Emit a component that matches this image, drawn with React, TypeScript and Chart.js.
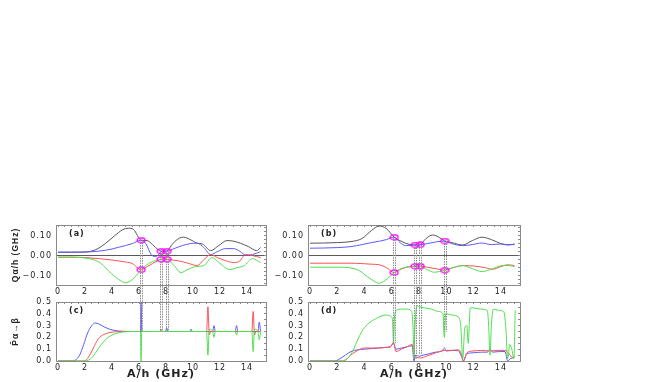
import React, { useEffect, useRef } from 'react';
import { Chart, registerables } from 'chart.js';

Chart.register(...registerables);
Chart.defaults.font.family = 'DejaVu Sans';

// ---------- axes ----------
const X_MIN = -0.15;
const X_MAX = 15.4;
const X_TICKS = [0, 2, 4, 6, 8, 10, 12, 14];
const Q_MIN = -0.147;
const Q_MAX = 0.153;
const Q_TICKS = [-0.1, 0, 0.1];
const P_MIN = 0;
const P_MAX = 0.5;
const P_TICKS = [0, 0.1, 0.2, 0.3, 0.4, 0.5];

// ---------- panel (a) ----------
const A_BLACK_X = [0, 1, 2, 2.8, 3.5, 4.2, 4.8, 5.2, 5.6, 6.15, 6.6, 7.0, 7.4, 7.63, 7.85, 8.05, 8.5, 9.0, 9.3, 9.8, 10.3, 10.7, 11.3, 11.9, 12.5, 13.0, 13.5, 14.1, 14.7, 15.0];
const A_BLACK_Y = [0.017, 0.017, 0.018, 0.03, 0.06, 0.1, 0.13, 0.137, 0.13, 0.077, 0.075, 0.055, 0.03, 0.022, 0.02, 0.022, 0.06, 0.088, 0.092, 0.08, 0.062, 0.058, 0.025, 0.05, 0.075, 0.072, 0.062, 0.045, 0.025, 0.04];
const A_BLUE_X = [0, 1, 2, 3, 4, 4.5, 5, 5.5, 6.15, 6.5, 6.9, 7.2, 7.45, 7.63, 7.85, 8.05, 8.6, 9.2, 9.8, 10.3, 10.8, 11.3, 11.8, 12.4, 13.0, 13.5, 13.9, 14.4, 15.0];
const A_BLUE_Y = [0.017, 0.017, 0.018, 0.022, 0.033, 0.042, 0.05, 0.06, 0.077, 0.06, 0.005, -0.005, 0.005, 0.022, 0.024, 0.022, 0.035, 0.05, 0.06, 0.062, 0.04, 0.005, 0.02, 0.035, 0.035, 0.02, 0.002, 0.005, 0.02];
const A_RED_X = [0, 1, 2, 3, 4, 4.8, 5.5, 6.15, 6.6, 7.0, 7.4, 7.63, 7.85, 8.05, 8.5, 9.2, 9.8, 10.3, 10.8, 11.3, 11.8, 12.4, 13.0, 13.4, 13.9, 14.4, 15.0];
const A_RED_Y = [-0.008, -0.008, -0.01, -0.015, -0.022, -0.03, -0.04, -0.071, -0.055, -0.04, -0.025, -0.018, -0.017, -0.018, -0.022, -0.03, -0.042, -0.05, -0.02, 0.005, -0.01, -0.025, -0.035, -0.03, 0.005, 0.0, -0.01];
const A_GREEN_X = [0, 1, 2, 2.6, 3.2, 3.8, 4.4, 5.0, 5.5, 6.15, 6.6, 7.0, 7.4, 7.63, 7.85, 8.05, 8.6, 9.1, 9.6, 10.2, 10.8, 11.4, 12.0, 12.7, 13.3, 13.8, 14.4, 15.0];
const A_GREEN_Y = [-0.008, -0.008, -0.012, -0.02, -0.04, -0.08, -0.115, -0.135, -0.12, -0.071, -0.045, -0.03, -0.022, -0.018, -0.017, -0.018, -0.05, -0.085, -0.07, -0.055, -0.05, -0.01, -0.04, -0.07, -0.06, -0.05, -0.015, -0.035];
const A_CROSS_X = [6.15, 6.15, 7.63, 8.05, 7.63, 8.05];
const A_CROSS_Y = [0.077, -0.071, 0.022, 0.022, -0.018, -0.018];
const A_LINK_X = [6.15, 7.63, 8.05];
const A_LINK_TOP = [0.077, 0.022, 0.022];

// ---------- panel (b) ----------
const B_BLACK_X = [0, 1, 2, 3, 3.8, 4.5, 5.06, 5.6, 6.17, 6.6, 7.0, 7.4, 7.7, 7.9, 8.07, 8.5, 9.0, 9.5, 9.87, 10.4, 11.2, 11.9, 12.6, 13.3, 14.0, 14.5, 15.0];
const B_BLACK_Y = [0.062, 0.063, 0.065, 0.07, 0.085, 0.125, 0.148, 0.135, 0.092, 0.075, 0.062, 0.055, 0.053, 0.052, 0.054, 0.085, 0.103, 0.09, 0.073, 0.065, 0.053, 0.075, 0.092, 0.08, 0.06, 0.053, 0.058];
const B_BLUE_X = [0, 1, 2, 3, 3.8, 4.5, 5.1, 5.6, 6.17, 6.6, 7.0, 7.4, 7.7, 7.9, 8.07, 8.6, 9.2, 9.87, 10.4, 11.2, 11.9, 12.6, 13.3, 14.0, 14.5, 15.0];
const B_BLUE_Y = [0.037, 0.038, 0.04, 0.045, 0.055, 0.065, 0.072, 0.08, 0.092, 0.065, 0.05, 0.051, 0.053, 0.053, 0.054, 0.06, 0.068, 0.073, 0.06, 0.05, 0.055, 0.063, 0.055, 0.058, 0.055, 0.055];
const B_RED_X = [0, 1, 2, 3, 3.8, 4.5, 5.1, 5.6, 6.17, 6.6, 7.0, 7.4, 7.7, 7.9, 8.07, 8.6, 9.2, 9.87, 10.5, 11.2, 12.0, 12.8, 13.4, 14.0, 14.5, 15.0];
const B_RED_Y = [-0.038, -0.038, -0.038, -0.038, -0.04, -0.043, -0.046, -0.06, -0.085, -0.07, -0.06, -0.055, -0.053, -0.052, -0.053, -0.058, -0.065, -0.073, -0.06, -0.05, -0.052, -0.06, -0.068, -0.055, -0.046, -0.05];
const B_GREEN_X = [0, 1, 2, 3, 3.6, 4.2, 4.7, 5.06, 5.5, 6.17, 6.6, 7.0, 7.4, 7.7, 7.9, 8.07, 8.6, 9.1, 9.87, 10.5, 11.2, 11.9, 12.6, 13.3, 14.1, 14.6, 15.0];
const B_GREEN_Y = [-0.058, -0.058, -0.058, -0.062, -0.075, -0.105, -0.128, -0.138, -0.125, -0.085, -0.068, -0.058, -0.054, -0.053, -0.052, -0.053, -0.07, -0.083, -0.073, -0.06, -0.05, -0.065, -0.08, -0.068, -0.05, -0.05, -0.055];
const B_CROSS_X = [6.17, 6.17, 7.7, 8.07, 7.7, 8.07, 9.87, 9.87];
const B_CROSS_Y = [0.092, -0.085, 0.053, 0.054, -0.053, -0.053, 0.073, -0.073];
const B_LINK_X = [6.17, 7.7, 8.07, 9.87];
const B_LINK_TOP = [0.092, 0.053, 0.054, 0.073];

// ---------- panel (c) ----------
const C_BLUE_X = [0, 1.0, 1.3, 1.6, 1.9, 2.2, 2.5, 2.75, 3.0, 3.4, 3.8, 4.3, 4.8, 5.3, 6.1, 6.15, 6.2, 7.95, 8.05, 8.15, 9.75, 9.85, 9.95, 11.45, 11.55, 11.65, 13.12, 13.22, 13.32, 14.8, 14.9, 15.0];
const C_BLUE_Y = [0, 0, 0.01, 0.05, 0.14, 0.24, 0.3, 0.322, 0.315, 0.29, 0.27, 0.257, 0.252, 0.25, 0.25, 0.5, 0.25, 0.25, 0.28, 0.25, 0.25, 0.27, 0.25, 0.25, 0.3, 0.25, 0.25, 0.3, 0.25, 0.25, 0.33, 0.25];
const C_RED_X = [0, 1.8, 2.1, 2.4, 2.7, 3.0, 3.4, 3.8, 4.3, 4.8, 5.3, 7.55, 7.63, 7.71, 11.0, 11.1, 11.2, 11.3, 14.35, 14.45, 14.55, 14.65, 15.0];
const C_RED_Y = [0, 0, 0.01, 0.06, 0.13, 0.19, 0.225, 0.24, 0.248, 0.25, 0.25, 0.25, 0.27, 0.25, 0.25, 0.46, 0.22, 0.25, 0.25, 0.42, 0.22, 0.25, 0.25];
const C_GREEN_X = [0, 2.0, 2.3, 2.6, 2.9, 3.2, 3.6, 4.0, 4.5, 5.0, 5.5, 6.1, 6.15, 6.2, 11.0, 11.1, 11.2, 11.45, 11.55, 11.65, 13.12, 13.22, 13.32, 14.35, 14.45, 14.55, 14.8, 14.9, 15.0];
const C_GREEN_Y = [0, 0, 0.01, 0.04, 0.09, 0.14, 0.19, 0.22, 0.24, 0.248, 0.25, 0.25, 0, 0.25, 0.25, 0.05, 0.27, 0.25, 0.2, 0.25, 0.25, 0.22, 0.25, 0.25, 0.08, 0.27, 0.25, 0.18, 0.25];
const C_LINK_BOTTOM = [0.25, 0.25, 0.25];

// ---------- panel (d) ----------
const D_GREEN_X = [0, 2.3, 2.6, 2.9, 3.2, 3.5, 3.8, 4.2, 4.7, 5.2, 5.6, 5.9, 6.05, 6.12, 6.2, 6.35, 6.7, 7.1, 7.45, 7.55, 7.62, 7.7, 7.85, 8.0, 8.4, 8.9, 9.4, 9.75, 9.85, 9.95, 10.4, 10.9, 11.05, 11.2, 11.35, 11.5, 11.6, 11.75, 12.0, 12.5, 13.0, 13.1, 13.2, 13.3, 13.45, 13.8, 14.2, 14.35, 14.5, 14.65, 14.8, 14.95, 15.05];
const D_GREEN_Y = [0, 0, 0.01, 0.04, 0.1, 0.18, 0.25, 0.31, 0.35, 0.38, 0.39, 0.38, 0.35, 0.15, 0.38, 0.43, 0.44, 0.44, 0.42, 0.3, 0.02, 0.3, 0.47, 0.46, 0.45, 0.44, 0.42, 0.4, 0.2, 0.4, 0.39, 0.37, 0.3, 0.02, 0.28, 0.3, 0.15, 0.45, 0.45, 0.44, 0.43, 0.3, 0.05, 0.3, 0.44, 0.43, 0.42, 0.3, 0.02, 0.14, 0.1, 0.02, 0.43];
const D_BLUE_X = [0, 1.8, 2.2, 2.6, 3.0, 3.5, 4.0, 4.5, 5.0, 5.5, 5.9, 6.12, 6.3, 6.7, 7.1, 7.5, 7.62, 7.75, 8.0, 8.3, 8.7, 9.2, 9.7, 9.85, 10.0, 10.5, 10.9, 11.1, 11.25, 11.5, 12.0, 12.6, 13.0, 13.2, 13.4, 13.9, 14.3, 14.5, 14.7, 15.0];
const D_BLUE_Y = [0, 0, 0.02, 0.05, 0.08, 0.095, 0.1, 0.105, 0.11, 0.115, 0.12, 0.15, 0.1, 0.11, 0.12, 0.13, 0.0, 0.05, 0.04, 0.05, 0.06, 0.075, 0.085, 0.11, 0.085, 0.09, 0.085, 0.04, 0.0, 0.06, 0.07, 0.075, 0.075, 0.1, 0.075, 0.08, 0.08, 0.0, 0.02, 0.03];
const D_RED_X = [0, 2.5, 2.8, 3.1, 3.5, 4.0, 4.5, 5.0, 5.5, 5.9, 6.12, 6.3, 6.7, 7.1, 7.5, 7.65, 7.8, 8.1, 8.5, 9.0, 9.5, 9.9, 10.4, 10.9, 11.1, 11.25, 11.5, 12.0, 12.6, 13.2, 13.8, 14.3, 14.6, 14.85, 15.0];
const D_RED_Y = [0, 0, 0.03, 0.06, 0.09, 0.11, 0.11, 0.11, 0.115, 0.12, 0.16, 0.08, 0.1, 0.12, 0.14, 0.02, 0.03, 0.025, 0.04, 0.06, 0.08, 0.09, 0.09, 0.095, 0.06, 0.0, 0.07, 0.085, 0.09, 0.085, 0.09, 0.09, 0.06, 0.03, 0.04];
const D_LINK_BOTTOM = [0.15, 0.02, 0.06, 0.25];

// ---------- style ----------
const C_BLACK = '#555555';
const C_BLUE = '#5a5aff';
const C_RED = '#ff5050';
const C_GREEN = '#4ee04e';
const MAGENTA = '#ff00ff';
const FRAME = '#8a8a8a';
const ZERO = '#5a5a5a';
const TEXT = '#222222';
const LINK = '#8c8c8c';

const pts = (xs: number[], ys: number[]) => xs.map((x, i) => ({ x, y: ys[i] }));
const line = (xs: number[], ys: number[], color: string) => ({
  data: pts(xs, ys), borderColor: color, backgroundColor: color, borderWidth: 1,
  pointRadius: 0, cubicInterpolationMode: 'monotone', fill: false,
});
const marks = (xs: number[], ys: number[], img: any) => ({
  data: pts(xs, ys), showLine: false, pointStyle: img, pointRadius: 4,
  borderColor: MAGENTA, backgroundColor: 'rgba(0,0,0,0)',
});

function ellipseMarker() {
  const c = document.createElement('canvas');
  c.width = 10; c.height = 7;
  const g = c.getContext('2d')!;
  g.strokeStyle = MAGENTA; g.lineWidth = 1.3;
  g.beginPath(); g.ellipse(5, 3.5, 4, 2.5, 0, 0, Math.PI * 2); g.stroke();
  return c;
}

const MINOR_X = Array.from({ length: 31 }, (_, i) => i * 0.5);
const MINOR_Q = Array.from({ length: 15 }, (_, i) => -0.14 + i * 0.02);
const MINOR_P = Array.from({ length: 11 }, (_, i) => i * 0.05);

const panelLabel = {
  id: 'panelLabel',
  afterDraw(chart: any, _a: any, opts: any) {
    const { ctx, chartArea } = chart;
    ctx.save();
    ctx.font = 'bold 8px "DejaVu Sans"';
    ctx.fillStyle = TEXT;
    ctx.textBaseline = 'middle';
    ctx.fillText(opts.text, chartArea.left + 13, chartArea.top + 9);
    ctx.restore();
  },
};
const spacing = {
  id: 'spacing',
  beforeDraw(chart: any) { (chart.ctx as any).letterSpacing = '1px'; },
};

function linkPlugin(getUpper: () => any, xs: number[], tops: number[], bottoms: number[]) {
  return {
    id: 'links',
    afterDatasetsDraw(chart: any) {
      const up = getUpper();
      if (!up) return;
      const ctx = chart.ctx;
      ctx.save();
      ctx.strokeStyle = LINK; ctx.lineWidth = 1; ctx.setLineDash([1.5, 1]);
      xs.forEach((x, i) => {
        const px = Math.round(chart.scales.x.getPixelForValue(x));
        const y0 = up.scales.y.getPixelForValue(tops[i]);
        const y1 = chart.scales.y.getPixelForValue(bottoms[i]);
        [px - 0.5, px + 1.5].forEach((xx) => {
          ctx.beginPath(); ctx.moveTo(xx, y0); ctx.lineTo(xx, y1); ctx.stroke();
        });
      });
      ctx.restore();
    },
  };
}

type Spec = {
  pad: { left: number; right: number; top: number; bottom: number };
  yMin: number; yMax: number; yTicks: number[]; minorY: number[];
  yFmt: (v: number) => string; yTitle?: string; xTitle?: string; xH: number;
  zeroLine: boolean; label: string; datasets: any[];
};

function makeChart(canvas: HTMLCanvasElement, s: Spec, extra: any[] = []) {
  return new Chart(canvas, {
    type: 'line',
    data: { datasets: s.datasets },
    options: {
      animation: false, responsive: false, events: [],
      layout: { padding: s.pad },
      plugins: { legend: { display: false }, tooltip: { enabled: false }, panelLabel: { text: s.label } } as any,
      scales: {
        x: {
          type: 'linear', position: 'bottom', min: X_MIN, max: X_MAX,
          afterBuildTicks: (sc: any) => { sc.ticks = X_TICKS.map((v) => ({ value: v })); },
          afterFit: (sc: any) => { sc.height = s.xH; },
          grid: { display: false, drawTicks: false },
          border: { display: true, color: FRAME, width: 1 },
          ticks: { color: TEXT, font: { size: 8 }, padding: 2, maxRotation: 0, autoSkip: false, callback: (v: any) => String(v) },
          title: s.xTitle
            ? { display: true, text: s.xTitle, color: TEXT, font: { size: 11, weight: 'bold' }, padding: { top: 0, bottom: 1 } }
            : { display: false },
        },
        y: {
          type: 'linear', position: 'left', min: s.yMin, max: s.yMax,
          afterBuildTicks: (sc: any) => { sc.ticks = s.yTicks.map((v) => ({ value: v })); },
          afterFit: (sc: any) => { sc.width = 50; },
          grid: {
            display: s.zeroLine, drawTicks: false,
            color: (c: any) => (c.tick && c.tick.value === 0 ? ZERO : 'rgba(0,0,0,0)'),
          },
          border: { display: true, color: FRAME, width: 1 },
          ticks: { color: TEXT, font: { size: 8 }, padding: 4, autoSkip: false, callback: (v: any) => s.yFmt(Number(v)) },
          title: s.yTitle
            ? { display: true, text: s.yTitle, color: TEXT, font: { size: 8.5, weight: 'bold', family: 'Liberation Sans' }, padding: { top: 5, bottom: 0 } }
            : { display: false },
        },
        x2: {
          type: 'linear', position: 'top', min: X_MIN, max: X_MAX,
          afterBuildTicks: (sc: any) => { sc.ticks = MINOR_X.map((v) => ({ value: v })); },
          afterFit: (sc: any) => { sc.height = 0; },
          ticks: { display: false },
          grid: { display: true, drawOnChartArea: false, drawTicks: true, tickLength: -2, color: FRAME },
          border: { display: true, color: FRAME, width: 1 },
        },
        y2: {
          type: 'linear', position: 'right', min: s.yMin, max: s.yMax,
          afterBuildTicks: (sc: any) => { sc.ticks = s.minorY.map((v) => ({ value: v })); },
          afterFit: (sc: any) => { sc.width = 0; },
          ticks: { display: false },
          grid: { display: true, drawOnChartArea: false, drawTicks: true, tickLength: -2, color: FRAME },
          border: { display: true, color: FRAME, width: 1 },
        },
      } as any,
    } as any,
    plugins: [panelLabel, spacing, ...extra],
  });
}

const fmtQ = (v: number) => (Math.abs(v) < 1e-9 ? '0.00' : (v < 0 ? '\u2212' : '') + Math.abs(v).toFixed(2));
const fmtP = (v: number) => v.toFixed(1);

export default function App() {
  const refA = useRef<HTMLCanvasElement>(null);
  const refB = useRef<HTMLCanvasElement>(null);
  const refC = useRef<HTMLCanvasElement>(null);
  const refD = useRef<HTMLCanvasElement>(null);

  useEffect(() => {
    const marker = ellipseMarker();
    const a = makeChart(refA.current!, {
      pad: { left: 6, right: 388, top: 225, bottom: 83 },
      yMin: Q_MIN, yMax: Q_MAX, yTicks: Q_TICKS, minorY: MINOR_Q, yFmt: fmtQ,
      yTitle: 'Q\u03b1/h (GHz)', xH: 14, zeroLine: true, label: '(a)',
      datasets: [
        marks(A_CROSS_X, A_CROSS_Y, marker),
        line(A_GREEN_X, A_GREEN_Y, C_GREEN),
        line(A_RED_X, A_RED_Y, C_RED),
        line(A_BLUE_X, A_BLUE_Y, C_BLUE),
        line(A_BLACK_X, A_BLACK_Y, C_BLACK),
      ],
    });
    const b = makeChart(refB.current!, {
      pad: { left: 258, right: 134, top: 225, bottom: 83 },
      yMin: Q_MIN, yMax: Q_MAX, yTicks: Q_TICKS, minorY: MINOR_Q, yFmt: fmtQ,
      xH: 14, zeroLine: true, label: '(b)',
      datasets: [
        marks(B_CROSS_X, B_CROSS_Y, marker),
        line(B_GREEN_X, B_GREEN_Y, C_GREEN),
        line(B_RED_X, B_RED_Y, C_RED),
        line(B_BLUE_X, B_BLUE_Y, C_BLUE),
        line(B_BLACK_X, B_BLACK_Y, C_BLACK),
      ],
    });
    const c = makeChart(refC.current!, {
      pad: { left: 6, right: 388, top: 302, bottom: 0 },
      yMin: P_MIN, yMax: P_MAX, yTicks: P_TICKS, minorY: MINOR_P, yFmt: fmtP,
      yTitle: 'P\u0304\u03b1\u2192\u03b2', xTitle: 'A/h (GHz)', xH: 21, zeroLine: false, label: '(c)',
      datasets: [
        line(C_GREEN_X, C_GREEN_Y, C_GREEN),
        line(C_RED_X, C_RED_Y, C_RED),
        line(C_BLUE_X, C_BLUE_Y, C_BLUE),
      ],
    }, [linkPlugin(() => a, A_LINK_X, A_LINK_TOP, C_LINK_BOTTOM)]);
    const d = makeChart(refD.current!, {
      pad: { left: 258, right: 134, top: 302, bottom: 0 },
      yMin: P_MIN, yMax: P_MAX, yTicks: P_TICKS, minorY: MINOR_P, yFmt: fmtP,
      xTitle: 'A/h (GHz)', xH: 21, zeroLine: false, label: '(d)',
      datasets: [
        line(D_GREEN_X, D_GREEN_Y, C_GREEN),
        line(D_RED_X, D_RED_Y, C_RED),
        line(D_BLUE_X, D_BLUE_Y, C_BLUE),
      ],
    }, [linkPlugin(() => b, B_LINK_X, B_LINK_TOP, D_LINK_BOTTOM)]);
    return () => { a.destroy(); b.destroy(); c.destroy(); d.destroy(); };
  }, []);

  const cs: React.CSSProperties = { position: 'absolute', left: 0, top: 0 };
  return (
    <div style={{ position: 'fixed', left: 0, top: 0, width: 654, height: 382, background: '#ffffff' }}>
      <canvas ref={refA} width={654} height={382} style={cs} />
      <canvas ref={refB} width={654} height={382} style={cs} />
      <canvas ref={refC} width={654} height={382} style={cs} />
      <canvas ref={refD} width={654} height={382} style={cs} />
    </div>
  );
}
